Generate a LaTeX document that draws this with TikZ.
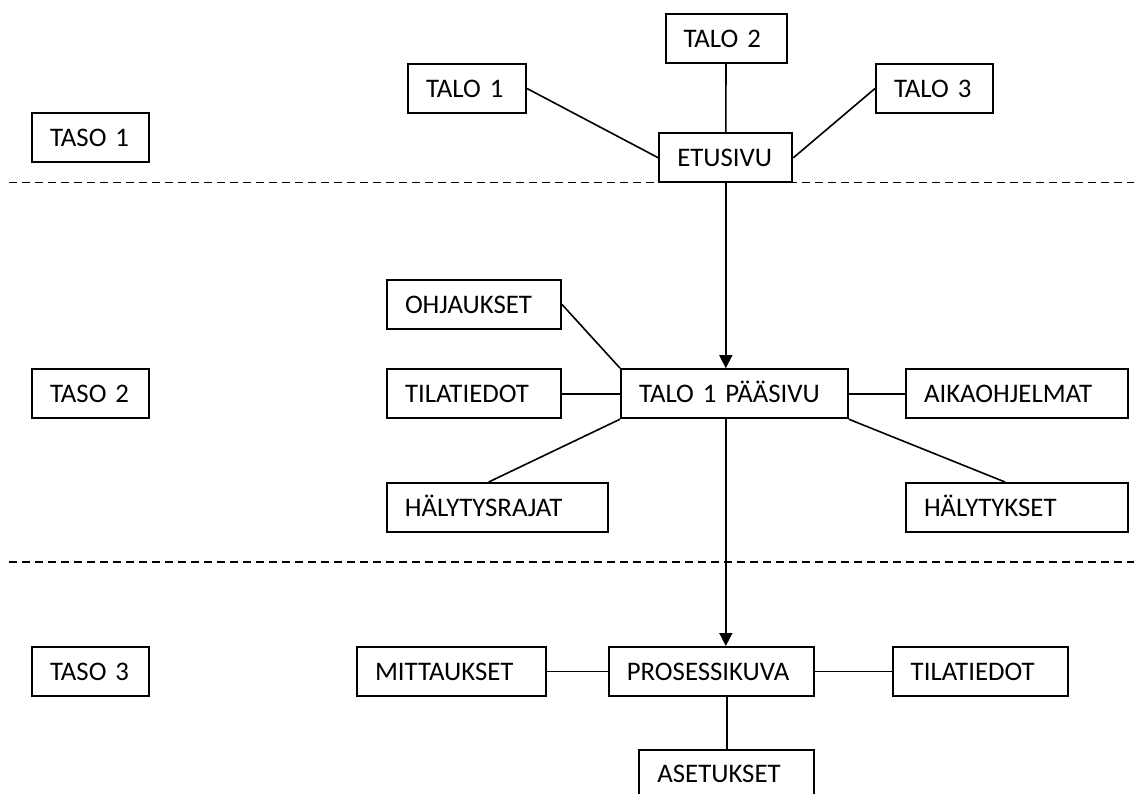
\documentclass[tikz,border=0pt]{standalone}
\usepackage{fontspec}
\setmainfont{Carlito}
\usetikzlibrary{arrows.meta,calc}
\begin{document}
\begin{tikzpicture}[x=1pt,y=-1pt,
  every node/.style={font=\fontsize{26.8}{30}\selectfont},
  box/.style={draw, line width=2pt, fill=white, minimum height=49pt, inner xsep=18pt, inner ysep=0pt,
    text height=17.3pt, text depth=0pt, anchor=center},
  conn/.style={line width=1.6pt},
  arr/.style={line width=1.6pt, -{Triangle[length=13pt,width=13pt]}},
  sep/.style={line width=1.5pt, dash pattern=on 8pt off 5pt}]
\useasboundingbox (0,0) rectangle (1134,794);
\coordinate (s1a) at (9,182.3);
\coordinate (s1b) at (1134,182.3);
\coordinate (s2a) at (9,562);
\coordinate (s2b) at (1134,562);
\draw[sep] (s1a) -- (s1b);
\draw[sep] (s2a) -- (s2b);

\node[box, text width=81pt] (taso1) at (90.5,138) {TASO 1};
\node[box, text width=81pt] (taso2) at (90.5,393.7) {TASO 2};
\node[box, text width=81pt] (taso3) at (90.5,671.5) {TASO 3};

\node[box, text width=82pt] (talo1) at (467,88.5) {TALO 1};
\node[box, text width=85pt] (talo2) at (726,38.5) {TALO 2};
\node[box, text width=81pt] (talo3) at (934.5,88.5) {TALO 3};
\node[box, text width=97pt] (etusivu) at (725.8,157.8) {ETUSIVU};

\node[box, text width=138pt] (ohjaukset) at (474,304.5) {OHJAUKSET};
\node[box, text width=138pt] (tila2) at (474,393.7) {TILATIEDOT};
\node[box, text width=190.7pt] (paasivu) at (734.4,393.7) {TALO 1 PÄÄSIVU};
\node[box, text width=186pt] (aika) at (1017,393.7) {AIKAOHJELMAT};
\node[box, text width=185.5pt] (halyrajat) at (497.7,507.5) {HÄLYTYSRAJAT};
\node[box, text width=186pt] (halykset) at (1017,507.5) {HÄLYTYKSET};

\node[box, text width=153pt] (mitt) at (451.5,671.5) {MITTAUKSET};
\node[box, text width=169pt] (proses) at (711.3,671.5) {PROSESSIKUVA};
\node[box, text width=139pt] (tila3) at (980.2,671.5) {TILATIEDOT};
\node[box, text width=138.7pt] (asetukset) at (726.7,774) {ASETUKSET};

\draw[conn] (talo1.east) -- (etusivu.west);
\draw[conn] (talo2.south) -- (etusivu.north);
\draw[conn] (talo3.west) -- (etusivu.east);
\draw[arr] (etusivu.south) -- (etusivu.south |- paasivu.north);

\draw[conn] (ohjaukset.east) -- (paasivu.north west);
\draw[conn] (tila2.east) -- (paasivu.west);
\draw[conn] (paasivu.east) -- (aika.west);
\draw[conn] (paasivu.south west) -- ([xshift=-9pt]halyrajat.north);
\draw[conn] (paasivu.south east) -- ([xshift=-12pt]halykset.north);
\draw[arr] (etusivu.south |- paasivu.south) -- (etusivu.south |- proses.north);

\draw[conn] (mitt.east) -- (proses.west);
\draw[conn] (proses.east) -- (tila3.west);
\draw[conn] (asetukset.north |- proses.south) -- (asetukset.north);
\end{tikzpicture}
\end{document}
